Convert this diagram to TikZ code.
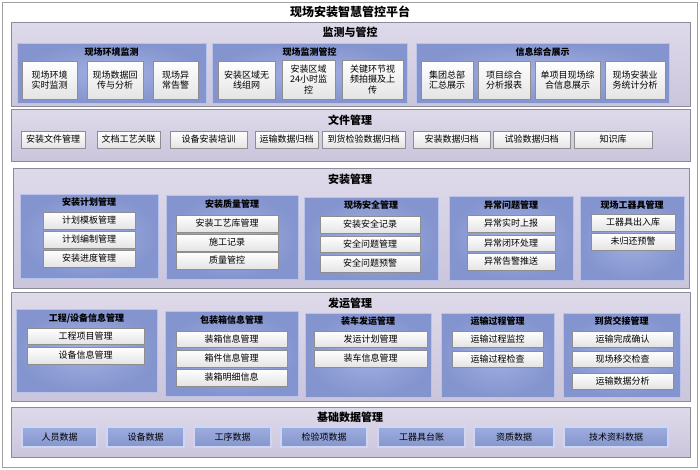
\documentclass[tikz,border=0pt]{standalone}
\usepackage{fontspec}
\setmainfont{Noto Sans CJK SC}
\newcommand\bnode[7][]{%
 \pgfmathsetmacro\myCX{(#3+#5)/2}\pgfmathsetmacro\myCY{(#4+#6)/2}%
 \pgfmathsetmacro\myW{#5-#3}\pgfmathsetmacro\myH{#6-#4}%
 \node[#1, minimum width=\myW pt, minimum height=\myH pt] (#2) at (\myCX,\myCY) {#7};}
\definecolor{frameline}{HTML}{A0A0A0}
\definecolor{secTop}{HTML}{DEDAEA}
\definecolor{secBot}{HTML}{CBC5DC}
\definecolor{secLine}{HTML}{8C8C98}
\definecolor{grpIn}{HTML}{A2B0E2}
\definecolor{grpOut}{HTML}{8494CE}
\definecolor{grpLine}{HTML}{B8C3EC}
\definecolor{itemLine}{HTML}{8E8E8E}
\definecolor{itemBot}{HTML}{E4E4E4}
\definecolor{baseTop}{HTML}{9DACDF}
\definecolor{baseBot}{HTML}{8596CD}
\definecolor{baseLine}{HTML}{CDD6F4}
\tikzset{
  outerbox/.style={draw=frameline, fill=white, line width=0.8pt, inner sep=0pt},
  secbox/.style={draw=secLine, top color=secTop, bottom color=secBot, line width=0.8pt, inner sep=0pt},
  grpbox/.style={draw=grpLine, inner color=grpIn, outer color=grpOut, line width=1pt, inner sep=0pt},
  itembox/.style={draw=itemLine, top color=white, bottom color=itemBot, line width=0.6pt, inner sep=0pt,
     align=center, font=\fontsize{9}{10.5}\selectfont},
  basebox/.style={draw=baseLine, top color=baseTop, bottom color=baseBot, line width=1.2pt, inner sep=0pt,
     font=\fontsize{9}{10.5}\selectfont},
  maintitle/.style={font=\fontsize{12}{14}\selectfont\bfseries, inner sep=0pt},
  sectitle/.style={font=\fontsize{11}{13}\selectfont\bfseries, inner sep=0pt},
  grptitle/.style={font=\fontsize{9}{11}\selectfont\bfseries, inner sep=0pt},
}
\begin{document}
\begin{tikzpicture}[x=1pt,y=-1pt]
\useasboundingbox (0,0) rectangle (700,469);
\bnode[outerbox]{frame}{2}{2}{697}{467}{}
\node[maintitle] (title) at (350,12) {现场安装智慧管控平台};

% ---------- Section 1
\bnode[secbox]{s1}{11}{22}{690}{106}{}
\node[sectitle] (s1t) at (350,32) {监测与管控};
\bnode[grpbox]{g1a}{17}{43}{206}{103}{}
\node[grptitle] (g1at) at (111.5,52) {现场环境监测};
\bnode[itembox]{a1}{22}{61}{77}{99}{现场环境\\实时监测}
\bnode[itembox]{a2}{87}{61}{143}{99}{现场数据回\\传与分析}
\bnode[itembox]{a3}{153}{61}{198}{99}{现场异\\常告警}
\bnode[grpbox]{g1b}{212}{43}{407}{103}{}
\node[grptitle] (g1bt) at (309.5,52) {现场监测管控};
\bnode[itembox]{b1}{218}{61}{275}{99}{安装区域无\\线组网}
\bnode[itembox]{b2}{282}{60}{335}{99}{安装区域\\24小时监\\控}
\bnode[itembox]{b3}{342}{60}{403}{99}{关键环节视\\频拍摄及上\\传}
\bnode[grpbox]{g1c}{416}{43}{669}{103}{}
\node[grptitle] (g1ct) at (542.5,52) {信息综合展示};
\bnode[itembox]{c1}{421}{61}{473}{99}{集团总部\\汇总展示}
\bnode[itembox]{c2}{478}{61}{530}{99}{项目综合\\分析报表}
\bnode[itembox]{c3}{535}{61}{600}{99}{单项目现场综\\合信息展示}
\bnode[itembox]{c4}{605}{61}{665}{99}{现场安装业\\务统计分析}

% ---------- Section 2
\bnode[secbox]{s2}{11}{109}{690}{161}{}
\node[sectitle] (s2t) at (350,120) {文件管理};
\bnode[itembox]{f1}{21}{131}{85}{148}{安装文件管理}
\bnode[itembox]{f2}{97}{131}{160}{148}{文档工艺关联}
\bnode[itembox]{f3}{170}{131}{247}{148}{设备安装培训}
\bnode[itembox]{f4}{255}{131}{318}{148}{运输数据归档}
\bnode[itembox]{f5}{322}{131}{405}{148}{到货检验数据归档}
\bnode[itembox]{f6}{413}{131}{490}{148}{安装数据归档}
\bnode[itembox]{f7}{493}{131}{570}{148}{试验数据归档}
\bnode[itembox]{f8}{574}{131}{652}{148}{知识库}

% ---------- Section 3
\bnode[secbox]{s3}{13}{168}{689}{288}{}
\node[sectitle] (s3t) at (350,179) {安装管理};
\bnode[grpbox]{g3a}{20}{194}{158}{278}{}
\node[grptitle] (g3at) at (89,202) {安装计划管理};
\bnode[itembox]{p1}{43}{212}{135}{229}{计划模板管理}
\bnode[itembox]{p2}{43}{231}{135}{248}{计划编制管理}
\bnode[itembox]{p3}{43}{250}{135}{267}{安装进度管理}
\bnode[grpbox]{g3b}{166}{195}{298}{279}{}
\node[grptitle] (g3bt) at (232,204) {安装质量管理};
\bnode[itembox]{q1}{176}{215}{278}{232}{安装工艺库管理}
\bnode[itembox]{q2}{176}{234}{278}{251}{施工记录}
\bnode[itembox]{q3}{176}{252}{278}{269}{质量管控}
\bnode[grpbox]{g3c}{304}{197}{438}{280}{}
\node[grptitle] (g3ct) at (371,205) {现场安全管理};
\bnode[itembox]{r1}{320}{216}{420}{233}{安装安全记录}
\bnode[itembox]{r2}{320}{236}{420}{252}{安全问题管理}
\bnode[itembox]{r3}{320}{255}{420}{272}{安全问题预警}
\bnode[grpbox]{g3d}{449}{196}{573}{280}{}
\node[grptitle] (g3dt) at (511,205) {异常问题管理};
\bnode[itembox]{u1}{467}{215}{555}{232}{异常实时上报}
\bnode[itembox]{u2}{467}{235}{555}{251}{异常闭环处理}
\bnode[itembox]{u3}{467}{253}{555}{270}{异常告警推送}
\bnode[grpbox]{g3e}{580}{196}{684}{280}{}
\node[grptitle] (g3et) at (632,205) {现场工器具管理};
\bnode[itembox]{t1}{591}{214}{675}{231}{工器具出入库}
\bnode[itembox]{t2}{591}{233}{675}{250}{未归还预警}

% ---------- Section 4
\bnode[secbox]{s4}{11}{292}{690}{401}{}
\node[sectitle] (s4t) at (350,303) {发运管理};
\bnode[grpbox]{g4a}{16}{309}{157}{392}{}
\node[grptitle] (g4at) at (86.5,318) {工程/设备信息管理};
\bnode[itembox]{e1}{27}{328}{144}{344}{工程项目管理}
\bnode[itembox]{e2}{27}{347}{144}{364}{设备信息管理}
\bnode[grpbox]{g4b}{165}{311}{298}{396}{}
\node[grptitle] (g4bt) at (231.5,320) {包装箱信息管理};
\bnode[itembox]{k1}{176}{331}{287}{347}{装箱信息管理}
\bnode[itembox]{k2}{176}{350}{287}{367}{箱件信息管理}
\bnode[itembox]{k3}{176}{369}{287}{386}{装箱明细信息}
\bnode[grpbox]{g4c}{305}{313}{431}{397}{}
\node[grptitle] (g4ct) at (368,321) {装车发运管理};
\bnode[itembox]{v1}{314}{331}{427}{347}{发运计划管理}
\bnode[itembox]{v2}{314}{350}{427}{367}{装车信息管理}
\bnode[grpbox]{g4d}{441}{313}{554}{397}{}
\node[grptitle] (g4dt) at (497.5,321) {运输过程管理};
\bnode[itembox]{m1}{452}{331}{543}{347}{运输过程监控}
\bnode[itembox]{m2}{452}{351}{543}{367}{运输过程检查}
\bnode[grpbox]{g4e}{563}{313}{680}{397}{}
\node[grptitle] (g4et) at (621.5,321) {到货交接管理};
\bnode[itembox]{h1}{572}{331}{673}{347}{运输完成确认}
\bnode[itembox]{h2}{572}{351}{673}{367}{现场移交检查}
\bnode[itembox]{h3}{572}{373}{673}{389}{运输数据分析}

% ---------- Section 5
\bnode[secbox]{s5}{11}{407}{690}{457}{}
\node[sectitle] (s5t) at (350,417) {基础数据管理};
\bnode[basebox]{d1}{22}{427}{97}{447}{人员数据}
\bnode[basebox]{d2}{107}{427}{184}{447}{设备数据}
\bnode[basebox]{d3}{194}{427}{271}{447}{工序数据}
\bnode[basebox]{d4}{281}{427}{367}{447}{检验项数据}
\bnode[basebox]{d5}{378}{427}{465}{447}{工器具台账}
\bnode[basebox]{d6}{474}{427}{554}{447}{资质数据}
\bnode[basebox]{d7}{564}{427}{668}{447}{技术资料数据}
\end{tikzpicture}
\end{document}
